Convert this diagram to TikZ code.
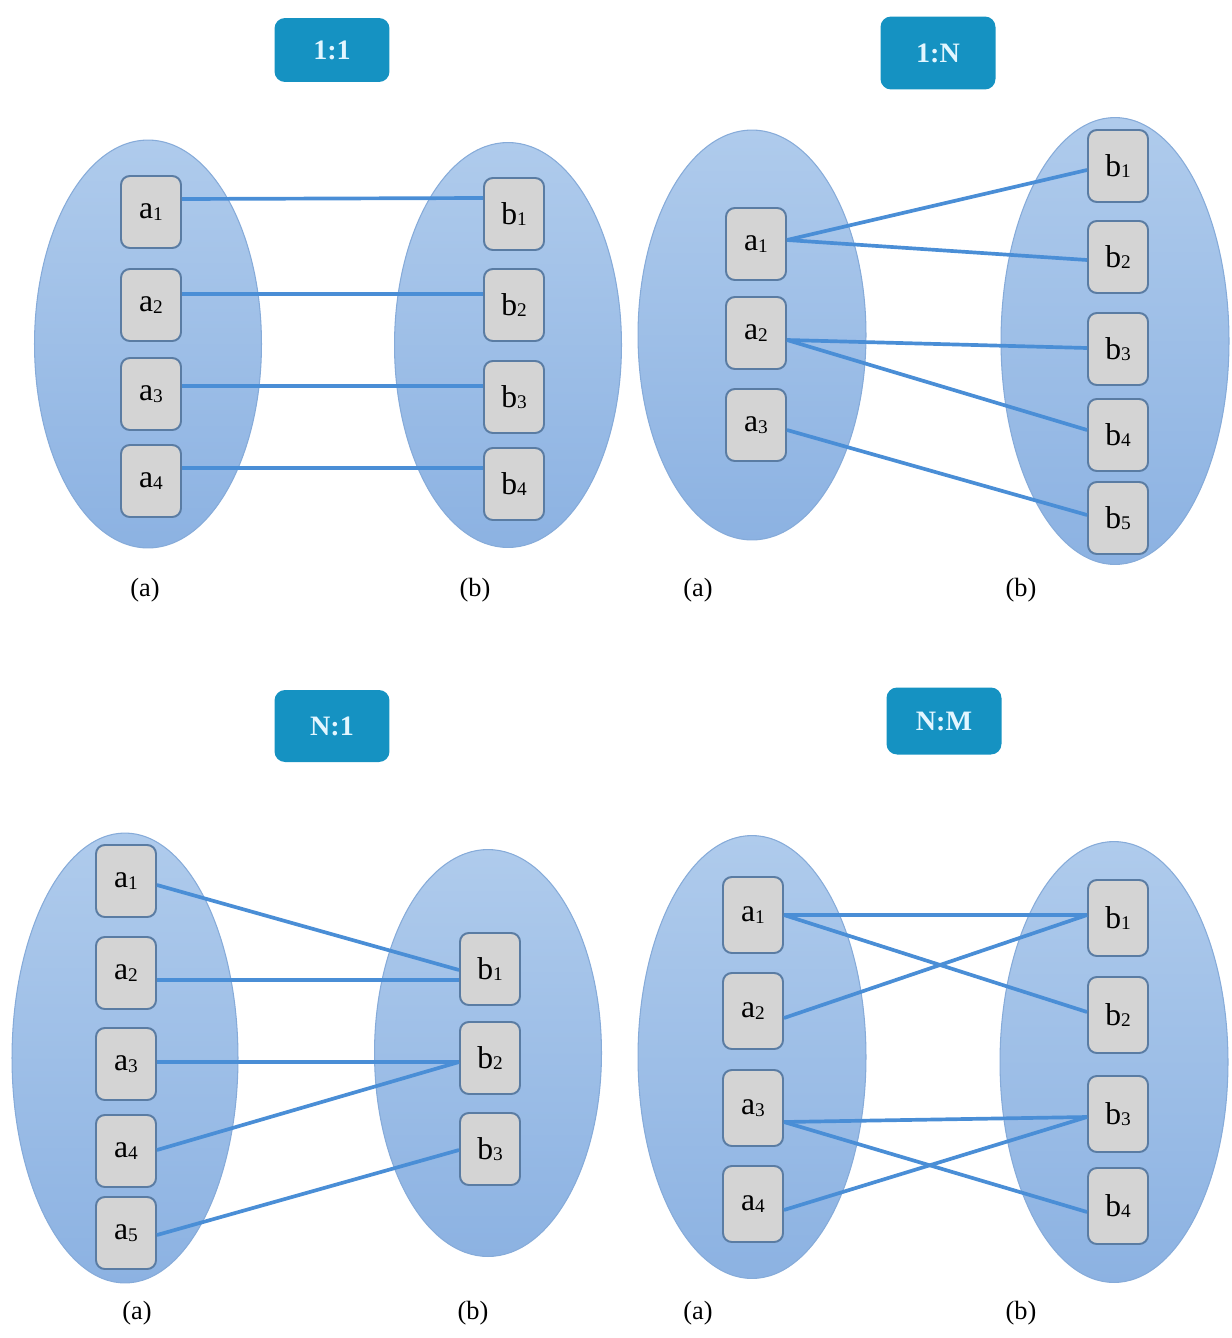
\documentclass[tikz,border=0pt]{standalone}
\usepackage{fontspec}
\setmainfont{Liberation Serif}
\usetikzlibrary{shapes.geometric}
\definecolor{setfillT}{HTML}{AFCBEC}
\definecolor{setfillB}{HTML}{8CB2E2}
\definecolor{setline}{HTML}{86ABD9}
\definecolor{elemfill}{HTML}{D4D4D4}
\definecolor{elemline}{HTML}{5A7CA3}
\definecolor{linkcol}{HTML}{4A8ED6}
\definecolor{tagfill}{HTML}{1592C2}
\definecolor{tagtext}{HTML}{E2F6FF}
\newcommand\sub[1]{\raisebox{-0.1ex}{\fontsize{11}{11}\selectfont #1}}
\newcommand\lnk[4]{\draw[link] ([yshift=#2*0.02cm]#1.east) -- ([yshift=#4*0.02cm]#3.west);}
\tikzset{
  setshape/.style={ellipse, draw=setline, line width=0.6pt, top color=setfillT, bottom color=setfillB, inner sep=0pt},
  elem/.style={rectangle, rounded corners=5pt, draw=elemline, line width=1.1pt, fill=elemfill,
    minimum width=1.2cm, minimum height=1.44cm, inner sep=0pt, font=\fontsize{18}{18}\selectfont},
  tag/.style={rectangle, rounded corners=6pt, fill=tagfill, text=tagtext, inner sep=0pt,
    minimum width=2.3cm, font=\fontsize{16}{16}\selectfont\bfseries},
  caption/.style={font=\fontsize{15}{15}\selectfont, inner sep=0pt},
  link/.style={draw=linkcol, line width=2.1pt}
}
\begin{document}
\begin{tikzpicture}[x=0.02cm, y=-0.02cm]
\useasboundingbox (0,0) rectangle (1231,1338);

% ---------- 1:1 ----------
\node[tag, minimum height=1.28cm] (t1) at (332,50) {1:1};
\node[setshape, minimum width=4.54cm, minimum height=8.16cm] (p1A) at (148,344) {};
\node[setshape, minimum width=4.54cm, minimum height=8.1cm] (p1B) at (508,345) {};
\node[elem] (p1a1) at (151,212) {a\sub{1}};
\node[elem] (p1a2) at (151,305) {a\sub{2}};
\node[elem] (p1a3) at (151,394) {a\sub{3}};
\node[elem] (p1a4) at (151,481) {a\sub{4}};
\node[elem] (p1b1) at (514,214) {b\sub{1}};
\node[elem] (p1b2) at (514,305) {b\sub{2}};
\node[elem] (p1b3) at (514,397) {b\sub{3}};
\node[elem] (p1b4) at (514,484) {b\sub{4}};
\lnk{p1a1}{13}{p1b1}{16}
\lnk{p1a2}{11}{p1b2}{11}
\lnk{p1a3}{8}{p1b3}{11}
\lnk{p1a4}{13}{p1b4}{16}
\node[caption] (p1ca) at (145,590) {(a)};
\node[caption] (p1cb) at (475,590) {(b)};

% ---------- 1:N ----------
\node[tag, minimum height=1.46cm] (t2) at (938,53) {1:N};
\node[setshape, minimum width=4.56cm, minimum height=8.2cm] (p2A) at (752,335) {};
\node[setshape, minimum width=4.56cm, minimum height=8.94cm] (p2B) at (1115,341) {};
\node[elem] (p2a1) at (756,244) {a\sub{1}};
\node[elem] (p2a2) at (756,333) {a\sub{2}};
\node[elem] (p2a3) at (756,425) {a\sub{3}};
\node[elem] (p2b1) at (1118,166) {b\sub{1}};
\node[elem] (p2b2) at (1118,257) {b\sub{2}};
\node[elem] (p2b3) at (1118,349) {b\sub{3}};
\node[elem] (p2b4) at (1118,435) {b\sub{4}};
\node[elem] (p2b5) at (1118,518) {b\sub{5}};
\lnk{p2a1}{4}{p2b1}{-4}
\lnk{p2a1}{4}{p2b2}{-3}
\lnk{p2a2}{-7}{p2b3}{1}
\lnk{p2a2}{-7}{p2b4}{5}
\lnk{p2a3}{-5}{p2b5}{3}
\node[caption] (p2ca) at (698,590) {(a)};
\node[caption] (p2cb) at (1021,590) {(b)};

% ---------- N:1 ----------
\node[tag, minimum height=1.44cm] (t3) at (332,726) {N:1};
\node[setshape, minimum width=4.52cm, minimum height=9.0cm] (p3A) at (125,1058) {};
\node[setshape, minimum width=4.54cm, minimum height=8.14cm] (p3B) at (488,1053) {};
\node[elem] (p3a1) at (126,881) {a\sub{1}};
\node[elem] (p3a2) at (126,973) {a\sub{2}};
\node[elem] (p3a3) at (126,1064) {a\sub{3}};
\node[elem] (p3a4) at (126,1151) {a\sub{4}};
\node[elem] (p3a5) at (126,1233) {a\sub{5}};
\node[elem] (p3b1) at (490,969) {b\sub{1}};
\node[elem] (p3b2) at (490,1058) {b\sub{2}};
\node[elem] (p3b3) at (490,1149) {b\sub{3}};
\lnk{p3a1}{-4}{p3b1}{-1}
\lnk{p3a2}{-7}{p3b1}{-11}
\lnk{p3a3}{2}{p3b2}{-4}
\lnk{p3a4}{1}{p3b2}{-4}
\lnk{p3a5}{-2}{p3b3}{-1}
\node[caption] (p3ca) at (137,1313) {(a)};
\node[caption] (p3cb) at (473,1313) {(b)};

% ---------- N:M ----------
\node[tag, minimum height=1.34cm] (t4) at (944,721) {N:M};
\node[setshape, minimum width=4.56cm, minimum height=8.86cm] (p4A) at (752,1057) {};
\node[setshape, minimum width=4.56cm, minimum height=8.82cm] (p4B) at (1114,1062) {};
\node[elem, minimum height=1.52cm] (p4a1) at (753,915) {a\sub{1}};
\node[elem, minimum height=1.52cm] (p4a2) at (753,1011) {a\sub{2}};
\node[elem, minimum height=1.52cm] (p4a3) at (753,1108) {a\sub{3}};
\node[elem, minimum height=1.52cm] (p4a4) at (753,1204) {a\sub{4}};
\node[elem, minimum height=1.52cm] (p4b1) at (1118,918) {b\sub{1}};
\node[elem, minimum height=1.52cm] (p4b2) at (1118,1015) {b\sub{2}};
\node[elem, minimum height=1.52cm] (p4b3) at (1118,1114) {b\sub{3}};
\node[elem, minimum height=1.52cm] (p4b4) at (1118,1206) {b\sub{4}};
\lnk{p4a1}{0}{p4b1}{3}
\lnk{p4a1}{0}{p4b2}{3}
\lnk{p4a2}{-7}{p4b1}{3}
\lnk{p4a3}{-14}{p4b3}{-3}
\lnk{p4a3}{-14}{p4b4}{-6}
\lnk{p4a4}{-6}{p4b3}{-3}
\node[caption] (p4ca) at (698,1313) {(a)};
\node[caption] (p4cb) at (1021,1313) {(b)};
\end{tikzpicture}
\end{document}
